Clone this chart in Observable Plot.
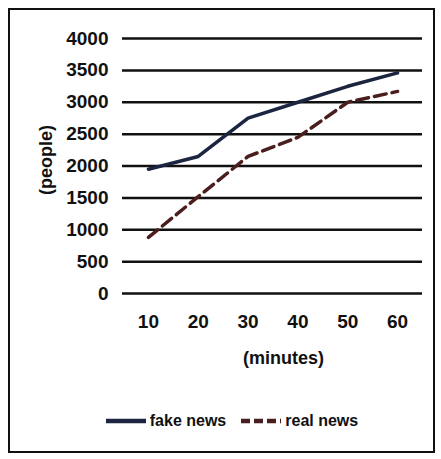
<!DOCTYPE html>
<html><head><meta charset="utf-8">
<script src="https://cdn.jsdelivr.net/npm/d3@7"></script>
<script src="https://cdn.jsdelivr.net/npm/@observablehq/plot@0.6"></script>
<style>
body{margin:0;background:#fff;font-family:"Liberation Sans",Arial,sans-serif;}
#wrap{position:relative;width:441px;height:459px;overflow:hidden;}
#frame{position:absolute;left:8px;top:8px;width:423px;height:441px;border:2.5px solid #111;}
#chart{position:absolute;left:0;top:0;}
#legend{position:absolute;left:18px;top:412px;width:441px;display:flex;justify-content:center;align-items:center;font-weight:bold;font-size:16px;color:#111;}
#legend span{margin-right:14px;display:flex;align-items:center;}
</style></head>
<body><div id="wrap"><div id="frame"></div><div id="chart"></div><div id="legend"></div></div>
<script>
const minutes = [10, 20, 30, 40, 50, 60];
const fakeNews = [1950, 2150, 2750, 3000, 3250, 3460];
const realNews = [880, 1520, 2150, 2450, 3000, 3170];
const yTicks = [0, 500, 1000, 1500, 2000, 2500, 3000, 3500, 4000];
const seriesNames = ["fake news", "real news"];
const colors = ["#1c2540", "#4a1e1e"];
const dashes = [null, "12,6"];

const rows = [];
seriesNames.forEach((s, i) => {
  const vals = i === 0 ? fakeNews : realNews;
  minutes.forEach((m, j) => rows.push({series: s, minute: m, people: vals[j]}));
});

const chart = Plot.plot({
  width: 441, height: 380,
  marginTop: 38, marginBottom: 87, marginLeft: 122, marginRight: 19,
  style: {fontFamily: "'Liberation Sans', Arial, sans-serif", fontWeight: "bold", fontSize: "19px", color: "#111", background: "transparent"},
  x: {domain: [4.8, 65], ticks: minutes, tickFormat: d => String(d), tickSize: 0, tickPadding: 21, label: null},
  y: {domain: [0, 4000], ticks: yTicks, tickFormat: d => String(d), tickSize: 0, tickPadding: 14, label: null},
  marks: [
    Plot.ruleY(yTicks, {stroke: "#111", strokeWidth: 2.5}),
    ...seriesNames.map((s, i) => Plot.line(rows.filter(r => r.series === s), {
      x: "minute", y: "people", stroke: colors[i], strokeWidth: 3.5,
      strokeDasharray: dashes[i] || undefined
    })),
    Plot.text(["(people)"], {frameAnchor: "left", dx: -76, dy: -6, rotate: -90, textAnchor: "middle", text: d => d, fontSize: 18, fontWeight: "bold", fill: "#111"}),
    Plot.text(["(minutes)"], {frameAnchor: "bottom", dx: 11, dy: 70, text: d => d, fontSize: 18, fontWeight: "bold", fill: "#111"})
  ]
});
document.getElementById("chart").appendChild(chart);

const legend = document.getElementById("legend");
seriesNames.forEach((s, i) => {
  const span = document.createElement("span");
  span.innerHTML = `<svg width="42" height="10" style="margin-right:3px"><line x1="1" y1="5" x2="41" y2="5" stroke="${colors[i]}" stroke-width="4.5" ${dashes[i] ? 'stroke-dasharray="9,4"' : ''}/></svg>${s}`;
  legend.appendChild(span);
});
</script></body></html>
